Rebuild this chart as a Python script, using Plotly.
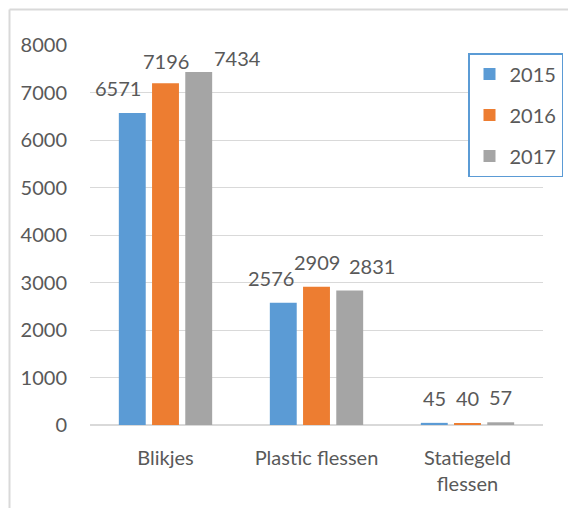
import plotly.graph_objects as go

categories = ["Blikjes", "Plastic flessen", "Statiegeld<br>flessen"]
years = ["2015", "2016", "2017"]
values_2015 = [6571, 2576, 45]
values_2016 = [7196, 2909, 40]
values_2017 = [7434, 2831, 57]
series_values = [values_2015, values_2016, values_2017]
colors = ["#5b9bd5", "#ed7d31", "#a5a5a5"]
y_ticks = [0, 1000, 2000, 3000, 4000, 5000, 6000, 7000, 8000]

# manual label nudges (pixels) as in the original chart
label_dx = [[-14, -12, 0], [0, 0, 0], [39, 22, 0]]
label_dy = [[25, 25, 25], [22, 25, 25], [14, 25, 25]]

FONT = "Lato, 'Open Sans', Arial, sans-serif"
TXT = "#595959"
OFF = 8  # page body margin
W, H = 576 - OFF, 508 - OFF
L, R, T, B = 90 - OFF, 33, 45 - OFF, 83
BARGAP = 0.34
BARGROUPGAP = 0.19

fig = go.Figure()
for i, (yr, vals, c) in enumerate(zip(years, series_values, colors)):
    fig.add_trace(go.Bar(
        x=categories, y=vals, name=yr, marker_color=c, marker_line_width=0,
        legendgroup=yr,
    ))

plot_w = W - L - R
slot = plot_w / len(categories) * (1 - BARGAP) / len(years)
annotations = []
for i, vals in enumerate(series_values):
    for j, v in enumerate(vals):
        annotations.append(dict(
            x=categories[j], y=v, xref="x", yref="y", text=str(v), showarrow=False,
            xanchor="center", yanchor="middle",
            xshift=(i - 1) * slot + label_dx[i][j], yshift=label_dy[i][j],
            font=dict(family=FONT, size=20, color=TXT),
        ))

plot_h = H - T - B
bx = (9.5 - OFF - L) / plot_w
by = 1 + (T - 9.5 + OFF) / plot_h
shapes = [
    dict(type="line", xref="paper", yref="paper", x0=bx, x1=1 + R / plot_w + 0.05, y0=by, y1=by,
         line=dict(color="#d9d9d9", width=2)),
    dict(type="line", xref="paper", yref="paper", x0=bx, x1=bx, y0=by, y1=-B / plot_h - 0.05,
         line=dict(color="#d9d9d9", width=2)),
]

fig.update_layout(
    width=W, height=H,
    margin=dict(l=L, r=R, t=T, b=B, pad=0),
    paper_bgcolor="white", plot_bgcolor="white",
    barmode="group", bargap=BARGAP, bargroupgap=BARGROUPGAP,
    font=dict(family=FONT, size=20, color=TXT),
    showlegend=True,
    legend=dict(
        x=(468 - OFF - L) / plot_w, y=1 - (53 - OFF - T) / plot_h, xanchor="left", yanchor="top",
        bgcolor="white", bordercolor="#5b9bd5", borderwidth=1.5,
        font=dict(family=FONT, size=20, color=TXT),
        traceorder="grouped", tracegroupgap=12, itemwidth=30,
    ),
    annotations=annotations,
    shapes=shapes,
    xaxis=dict(showgrid=False, showline=False, ticks="", ticklabelstandoff=19,
               tickfont=dict(family=FONT, size=20, color=TXT)),
    yaxis=dict(range=[0, 8000], tickvals=y_ticks, showgrid=True, gridcolor="#d9d9d9", gridwidth=1,
               zeroline=True, zerolinecolor="#d9d9d9", zerolinewidth=1.5, showline=False,
               ticks="", ticklabelstandoff=22,
               tickfont=dict(family=FONT, size=20, color=TXT)),
)

fig.write_html("out.html")
